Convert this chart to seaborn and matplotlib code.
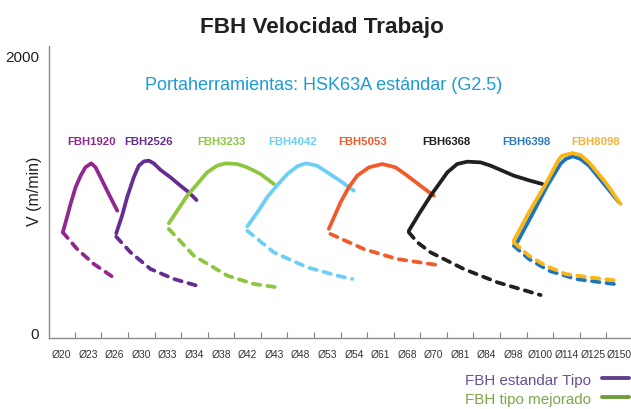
import matplotlib
matplotlib.use("Agg")
import matplotlib.pyplot as plt
from matplotlib.lines import Line2D
import numpy as np
import pandas as pd
import seaborn as sns

# Tool diameters along the x axis (categorical positions 0..21)
diameters = ["Ø20", "Ø23", "Ø26", "Ø30", "Ø33", "Ø34", "Ø38", "Ø42", "Ø43", "Ø48", "Ø53",
             "Ø54", "Ø61", "Ø68", "Ø70", "Ø81", "Ø84", "Ø98", "Ø100", "Ø114", "Ø125", "Ø150"]

tools = ["FBH1920", "FBH2526", "FBH3233", "FBH4042", "FBH5053", "FBH6368", "FBH6398", "FBH8098"]

# Standard curves: position on the diameter axis / cutting speed V (m/min)
fbh1920_pos = [0.05, 0.19, 0.34, 0.53, 0.72, 0.90, 1.12, 1.28, 1.47, 1.78, 2.10]
fbh1920_v   = [720, 816, 924, 1045, 1128, 1189, 1218, 1189, 1117, 996, 876]
fbh2526_pos = [2.06, 2.28, 2.47, 2.72, 2.91, 3.10, 3.29, 3.47, 3.73, 4.10, 4.48, 4.79, 5.08]
fbh2526_v   = [713, 840, 973, 1117, 1201, 1232, 1237, 1218, 1170, 1117, 1056, 1009, 953]
fbh3233_pos = [4.04, 4.73, 5.11, 5.48, 5.86, 6.17, 6.61, 6.99, 7.49, 7.99]
fbh3233_v   = [785, 984, 1069, 1153, 1201, 1218, 1213, 1189, 1141, 1069]
fbh4042_pos = [6.99, 7.37, 7.74, 8.12, 8.50, 8.87, 9.18, 9.62, 10.00, 10.50, 11.00]
fbh4042_v   = [763, 864, 973, 1061, 1141, 1196, 1218, 1201, 1153, 1090, 1020]
fbh5053_pos = [10.06, 10.50, 10.81, 11.13, 11.57, 12.07, 12.57, 13.01, 13.51, 14.01]
fbh5053_v   = [745, 936, 1045, 1129, 1189, 1213, 1189, 1129, 1056, 984]
fbh6368_pos = [13.07, 13.45, 13.89, 14.52, 14.89, 15.27, 15.77, 16.15, 17.02, 17.65, 18.09]
fbh6368_v   = [731, 852, 984, 1153, 1213, 1230, 1225, 1201, 1129, 1092, 1069]
fbh6398_pos = [17.15, 17.72, 18.28, 18.78, 18.97, 19.24, 19.53, 19.85, 20.47, 20.98]
fbh6398_v   = [648, 852, 1056, 1215, 1249, 1269, 1249, 1201, 1056, 936]
fbh8098_pos = [17.02, 17.59, 18.22, 18.72, 18.84, 19.22, 19.53, 19.85, 20.47, 21.04]
fbh8098_v   = [659, 864, 1069, 1249, 1273, 1292, 1278, 1225, 1081, 924]

# Improved (dashed) curves
fbh1920_pos_m = [0.05, 0.59, 1.22, 2.10]
fbh1920_v_m   = [720, 599, 491, 375]
fbh2526_pos_m = [2.06, 2.60, 3.35, 4.23, 5.11]
fbh2526_v_m   = [688, 575, 455, 383, 334]
fbh3233_pos_m = [4.04, 4.98, 6.24, 7.24, 8.12]
fbh3233_v_m   = [744, 551, 407, 347, 323]
fbh4042_pos_m = [6.99, 7.99, 9.25, 10.38, 10.94]
fbh4042_v_m   = [731, 575, 467, 407, 383]
fbh5053_pos_m = [10.12, 11.38, 12.64, 14.14]
fbh5053_v_m   = [708, 599, 527, 484]
fbh6368_pos_m = [13.07, 13.39, 13.89, 15.14, 16.40, 18.03]
fbh6368_v_m   = [720, 648, 575, 455, 359, 267]
fbh6398_pos_m = [17.02, 17.59, 18.34, 19.35, 20.98]
fbh6398_v_m   = [623, 527, 443, 383, 342]
fbh8098_pos_m = [17.02, 17.59, 18.22, 18.97, 19.85, 20.98]
fbh8098_v_m   = [648, 551, 479, 419, 395, 370]

standard = {
    "FBH1920": (fbh1920_pos, fbh1920_v), "FBH2526": (fbh2526_pos, fbh2526_v),
    "FBH3233": (fbh3233_pos, fbh3233_v), "FBH4042": (fbh4042_pos, fbh4042_v),
    "FBH5053": (fbh5053_pos, fbh5053_v), "FBH6368": (fbh6368_pos, fbh6368_v),
    "FBH6398": (fbh6398_pos, fbh6398_v), "FBH8098": (fbh8098_pos, fbh8098_v),
}
improved = {
    "FBH1920": (fbh1920_pos_m, fbh1920_v_m), "FBH2526": (fbh2526_pos_m, fbh2526_v_m),
    "FBH3233": (fbh3233_pos_m, fbh3233_v_m), "FBH4042": (fbh4042_pos_m, fbh4042_v_m),
    "FBH5053": (fbh5053_pos_m, fbh5053_v_m), "FBH6368": (fbh6368_pos_m, fbh6368_v_m),
    "FBH6398": (fbh6398_pos_m, fbh6398_v_m), "FBH8098": (fbh8098_pos_m, fbh8098_v_m),
}

colors = {
    "FBH1920": "#92278F", "FBH2526": "#662D91", "FBH3233": "#8DC63F", "FBH4042": "#6DCFF6",
    "FBH5053": "#F15A29", "FBH6368": "#231F20", "FBH6398": "#1C75BC", "FBH8098": "#FBB514",
}
label_colors = dict(colors, FBH8098="#F9B233", FBH6398="#2B7BC0")
label_x = {"FBH1920": 1.13, "FBH2526": 3.28, "FBH3233": 6.02, "FBH4042": 8.69,
           "FBH5053": 11.32, "FBH6368": 14.49, "FBH6398": 17.50, "FBH8098": 20.10}

rows = []
for tool in tools:
    for kind, src in (("estandar", standard), ("mejorado", improved)):
        pos, v = src[tool]
        for i, (p, s) in enumerate(zip(pos, v)):
            rows.append({"tool": tool, "tipo": kind, "order": i, "pos": p, "v": s})
df = pd.DataFrame(rows)

sns.set_theme(style="white")
plt.rcParams["font.family"] = ["Liberation Sans", "DejaVu Sans"]

fig = plt.figure(figsize=(6.31, 4.10), dpi=100)
ax = fig.add_axes([49 / 631, (410 - 339) / 410, 1 - 49 / 631, (339 - 47) / 410])

sns.lineplot(data=df, x="pos", y="v", hue="tool", style="tipo",
             hue_order=tools, style_order=["estandar", "mejorado"],
             palette=colors, dashes={"estandar": "", "mejorado": (2.0, 1.9)},
             estimator=None, sort=False, legend=False, linewidth=2.7,
             solid_capstyle="round", dash_capstyle="round", solid_joinstyle="round",
             ax=ax)

for tool in tools:
    ax.text(label_x[tool], 1380, tool, color=label_colors[tool], fontsize=8.2,
            fontweight="bold", ha="center", va="center")

ax.text(9.86, 1790, "Portaherramientas: HSK63A estándar (G2.5)", color="#1B9BD7",
        fontsize=13.0, ha="center", va="center")

ax.set_xlim(-0.47, 21.43)
ax.set_ylim(-43, 2065)
ax.set_xticks(range(len(diameters)))
ax.set_xticklabels(diameters, fontsize=7.4, color="#333333")
ax.set_xticks(np.arange(0.5, len(diameters) - 1, 1.0), minor=True)
ax.set_yticks([0, 2000])
ax.set_yticklabels(["0", "2000"], fontsize=11, color="#231F20")
ax.tick_params(axis="x", which="major", direction="in", length=2.3, width=0.8,
               color="#808080", pad=8)
ax.tick_params(axis="x", which="minor", direction="in", length=4.0, width=0.8,
               color="#808080", bottom=True)
ax.tick_params(axis="y", length=0, pad=7)
ax.set_xlabel("")
ax.set_ylabel("")
for side in ("top", "right"):
    ax.spines[side].set_visible(False)
for side in ("left", "bottom"):
    ax.spines[side].set_color("#8A8A8A")
    ax.spines[side].set_linewidth(1.0)

fig.text(35 / 631, 1 - 191 / 410, "V (m/min)", rotation=90, fontsize=11.5,
         color="#231F20", ha="center", va="center")
fig.text(322 / 631, 1 - 28 / 410, "FBH Velocidad Trabajo", fontsize=16.2, fontweight="bold",
         color="#231F20", ha="center", va="center")

handles = [Line2D([], [], color="#5F3F8E", lw=2.8), Line2D([], [], color="#6F9D3A", lw=2.8)]
fig.legend(handles, ["FBH estandar Tipo", "FBH tipo mejorado"], loc="upper right",
           bbox_to_anchor=(1.0, 1 - 372 / 410), frameon=False, fontsize=10.9,
           markerfirst=False, handlelength=1.8, handletextpad=0.75, labelspacing=0.33,
           borderpad=0.1, borderaxespad=0.0, labelcolor=["#6A4E93", "#7FA34A"])

fig.savefig("out.png", dpi=100)
